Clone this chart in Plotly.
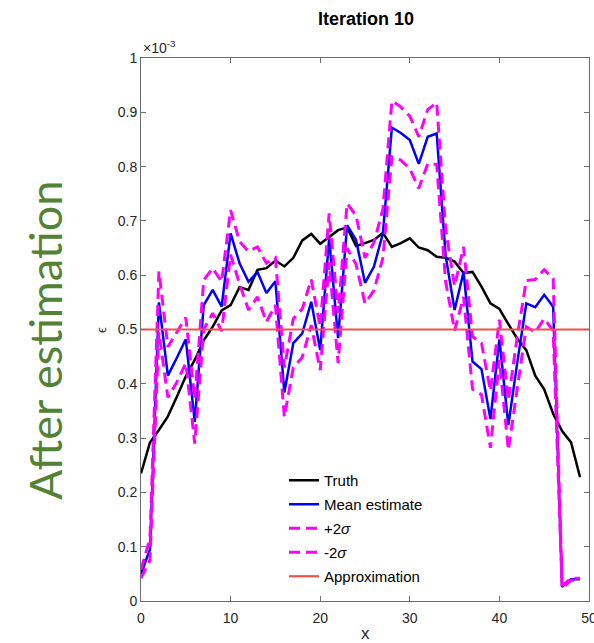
import plotly.graph_objects as go

x_vals = list(range(50))

truth = [0.235, 0.292, 0.315, 0.34, 0.376, 0.414, 0.444, 0.48, 0.505, 0.535,
         0.545, 0.578, 0.573, 0.61, 0.613, 0.627, 0.616, 0.632, 0.664, 0.676,
         0.658, 0.671, 0.683, 0.688, 0.654, 0.659, 0.665, 0.678, 0.652, 0.659,
         0.668, 0.651, 0.646, 0.634, 0.632, 0.625, 0.604, 0.606, 0.579, 0.548,
         0.538, 0.51, 0.483, 0.462, 0.415, 0.39, 0.345, 0.313, 0.292, 0.228]

mean_est = [0.05, 0.095, 0.55, 0.415, 0.448, 0.482, 0.33, 0.545, 0.573, 0.542,
            0.677, 0.622, 0.588, 0.606, 0.567, 0.589, 0.384, 0.475, 0.493, 0.551,
            0.462, 0.668, 0.484, 0.692, 0.665, 0.586, 0.616, 0.677, 0.872, 0.862,
            0.849, 0.805, 0.855, 0.861, 0.636, 0.536, 0.606, 0.441, 0.427, 0.335,
            0.482, 0.324, 0.44, 0.548, 0.541, 0.564, 0.542, 0.026, 0.04, 0.04]

plus_2sigma = [0.058, 0.115, 0.607, 0.468, 0.495, 0.522, 0.372, 0.591, 0.613, 0.588,
               0.72, 0.662, 0.644, 0.652, 0.622, 0.632, 0.43, 0.52, 0.538, 0.592,
               0.505, 0.714, 0.53, 0.732, 0.71, 0.632, 0.66, 0.722, 0.921, 0.91,
               0.893, 0.855, 0.905, 0.918, 0.685, 0.58, 0.652, 0.487, 0.475, 0.387,
               0.518, 0.37, 0.488, 0.59, 0.592, 0.61, 0.594, 0.028, 0.042, 0.042]

minus_2sigma = [0.042, 0.075, 0.495, 0.375, 0.403, 0.438, 0.29, 0.5, 0.53, 0.497,
                0.638, 0.584, 0.536, 0.56, 0.514, 0.545, 0.339, 0.43, 0.449, 0.508,
                0.425, 0.624, 0.438, 0.65, 0.62, 0.548, 0.572, 0.632, 0.818, 0.812,
                0.796, 0.76, 0.805, 0.804, 0.588, 0.498, 0.56, 0.39, 0.38, 0.282,
                0.444, 0.278, 0.392, 0.505, 0.495, 0.52, 0.498, 0.024, 0.038, 0.038]

approximation = 0.5

y_tick_vals = [0, 0.1, 0.2, 0.3, 0.4, 0.5, 0.6, 0.7, 0.8, 0.9, 1.0]
y_tick_text = ["0", "0.1", "0.2", "0.3", "0.4", "0.5", "0.6", "0.7", "0.8", "0.9", "1"]
x_tick_vals = [0, 10, 20, 30, 40, 50]

SCALE = 1e-3
def sc(v):
    return [a * SCALE for a in v]

FONT = "Liberation Sans, Arial, Helvetica, sans-serif"
DASH = "11px,6px"

W, H = 594, 643
L, R, T, B = 141, 5, 58, 42
PW, PH = W - L - R, H - T - B

fig = go.Figure()
fig.add_trace(go.Scatter(x=x_vals, y=sc(truth), mode="lines", name="Truth",
                         legendgroup="a", line=dict(color="#000000", width=2.5)))
fig.add_trace(go.Scatter(x=x_vals, y=sc(mean_est), mode="lines", name="Mean estimate",
                         legendgroup="b", line=dict(color="#0000ff", width=2.5)))
fig.add_trace(go.Scatter(x=x_vals, y=sc(plus_2sigma), mode="lines", name="+2<i>σ</i>",
                         legendgroup="c", line=dict(color="#ff00ff", width=3, dash=DASH)))
fig.add_trace(go.Scatter(x=x_vals, y=sc(minus_2sigma), mode="lines", name="-2<i>σ</i>",
                         legendgroup="d", line=dict(color="#ff00ff", width=3, dash=DASH)))
fig.add_trace(go.Scatter(x=[0, 50], y=[approximation * SCALE] * 2, mode="lines",
                         name="Approximation", legendgroup="e",
                         line=dict(color="#f0504a", width=2.2)))

axis_common = dict(showline=True, linecolor="#6e6e6e", linewidth=1, mirror="ticks",
                   ticks="inside", ticklen=5, tickcolor="#6e6e6e", showgrid=False,
                   zeroline=False, ticklabeloverflow="allow", automargin=False,
                   tickfont=dict(family=FONT, size=14, color="#262626"))

fig.update_xaxes(range=[0, 50], tickvals=x_tick_vals, ticklabelstandoff=4, **axis_common)
fig.update_yaxes(range=[0, 1e-3], tickvals=sc(y_tick_vals), ticktext=y_tick_text,
                 **axis_common)

def px_x(px):
    return (px - L) / PW

def px_y(py):
    return (H - B - py) / PH

fig.update_layout(
    width=W, height=H,
    margin=dict(l=L, r=R, t=T, b=B, autoexpand=False),
    plot_bgcolor="white", paper_bgcolor="white",
    font=dict(family=FONT, color="#000000"),
    title=dict(text="<b>Iteration 10</b>", x=366 / W, xanchor="center",
               y=1 - 19 / H, yanchor="middle", font=dict(size=18, color="#000000")),
    showlegend=True,
    legend=dict(x=px_x(284), y=px_y(464), xanchor="left", yanchor="top",
                bgcolor="rgba(255,255,255,0)", borderwidth=0,
                font=dict(family=FONT, size=15, color="#000000"),
                traceorder="grouped", tracegroupgap=1.5),
    annotations=[
        dict(text="×10<sup>-3</sup>", xref="paper", yref="paper", x=0, y=1,
             xanchor="left", yanchor="bottom", showarrow=False,
             font=dict(family=FONT, size=14, color="#262626")),
        dict(text="ϵ", xref="paper", yref="paper", x=px_x(101), y=px_y(330),
             xanchor="center", yanchor="middle", textangle=-90, showarrow=False,
             font=dict(family=FONT, size=13, color="#262626")),
        dict(text="x", xref="paper", yref="paper", x=0.5, y=px_y(633),
             xanchor="center", yanchor="middle", showarrow=False,
             font=dict(family=FONT, size=17, color="#262626")),
        dict(text="After estimation", xref="paper", yref="paper",
             x=px_x(45), y=px_y(341),
             xanchor="center", yanchor="middle", textangle=-90, showarrow=False,
             font=dict(family="Lato, Open Sans, sans-serif", size=45, color="#548235")),
    ],
)

fig.write_html(
    "out.html",
    config={"displayModeBar": False},
    post_script="document.body.style.margin='0';document.body.style.overflow='hidden';",
)
